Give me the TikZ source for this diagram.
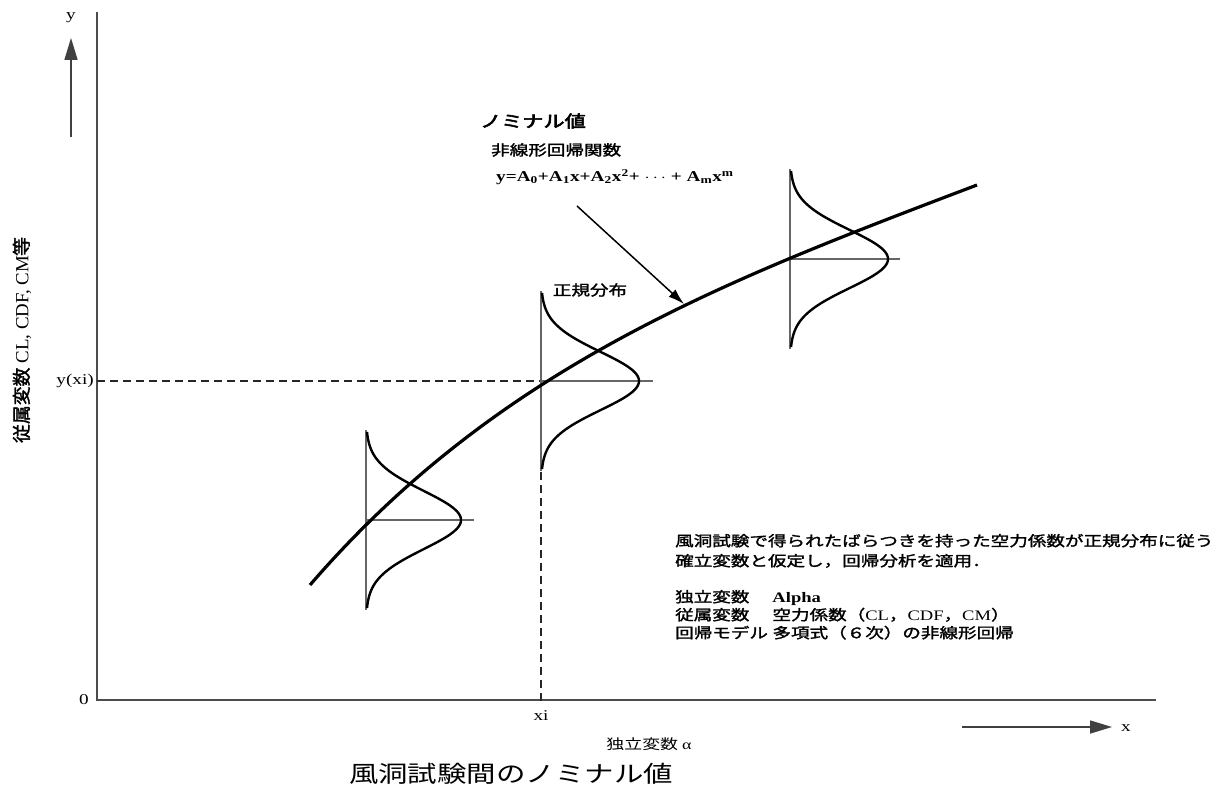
\documentclass[tikz,border=0pt]{standalone}
\usepackage{fontspec}
\setmainfont{Liberation Serif}
\newfontfamily\jp{Noto Sans CJK JP}
\newfontfamily\jpb[FakeBold=1.5]{Noto Sans CJK JP}
\newfontfamily\jpbb[FakeBold=3]{Noto Sans CJK JP}
\usetikzlibrary{arrows.meta}
\newcommand{\hs}[1]{\scalebox{1.28}[1]{#1}}
\newcommand{\fsz}[1]{\fontsize{#1}{#1}\selectfont}
\newcommand{\distr}[4]{%
  \draw[guide] (#1,#2-90) -- (#1,#2+90);
  \draw[guide] (#1,#2) -- (#1+#4,#2);
  \draw[dens] plot[domain=-88:88,samples=90,smooth] ({#1+#3*exp(-(\x*\x)/1700)},{#2+\x});
}
\begin{document}
\begin{tikzpicture}[x=1pt,y=-1pt,
  axis/.style={line width=1.6pt, black!70},
  guide/.style={line width=1.3pt, black!60},
  dens/.style={line width=2.4pt, black},
  mainc/.style={line width=3.2pt, black},
  guided/.style={line width=1.2pt, black!85, dash pattern=on 8pt off 5pt},
  bigarrow/.style={line width=1.6pt, black!75, -{Triangle[length=22pt,width=13pt]}},
  lab/.style={font=\fsz{15}, inner sep=1pt},
  jtxt/.style={font=\jp\fsz{14.5}, inner sep=0pt}]
\useasboundingbox (0,0) rectangle (1218,799);
\fill[white] (0,0) rectangle (1218,799);
% axes
\coordinate (ytop) at (97,12);
\coordinate (O) at (97,700);
\coordinate (xend) at (1156,700);
\draw[axis] (ytop) -- (O) -- (xend);
% direction arrows
\coordinate (ya0) at (71,137);
\coordinate (ya1) at (71,38);
\draw[bigarrow] (ya0) -- (ya1);
\node[lab] (ylab) at (71,18) {\hs{y}};
\coordinate (xa0) at (962,727);
\coordinate (xa1) at (1112,727);
\draw[bigarrow] (xa0) -- (xa1);
\node[lab] (xlab) at (1126,728) {\hs{x}};
% axis labels
\node[lab] (zero) at (84,700) {\hs{0}};
\node[lab, anchor=east] (yxi) at (95,381) {\hs{y(xi)}};
\node[lab] (xi) at (541,716) {\hs{xi}};
\node[inner sep=0pt, font=\fsz{14}] (alab) at (649,744) {\hs{\jp 独立変数\ \rmfamily α}};
\node[rotate=90, inner sep=0pt, font=\fsz{14.5}] (ylabel) at (22,340) {\scalebox{1.3}[1.28]{\jpb 従属変数\ \rmfamily CL, CDF, CM\jpb 等}};
% dashed guides
\coordinate (yx) at (97,381);
\coordinate (P2) at (541,381);
\coordinate (P2b) at (541,472);
\coordinate (xi0) at (541,704);
\draw[guided] (yx) -- (P2);
\draw[guided] (P2b) -- (xi0);
% distributions
\distr{366}{520}{95}{108}
\distr{541}{381}{98}{112}
\distr{790}{259}{98}{110}
% main curve
\coordinate (c0) at (310,585);
\coordinate (c3) at (977,185);
\draw[mainc] (c0) .. controls (500,365) and (727,280) .. (c3);
% labels
\node[anchor=west, inner sep=0pt, font=\jpbb\fsz{16.5}] (nominal) at (480,121) {\hs{ノミナル値}};
\node[anchor=west, inner sep=0pt, font=\jpb\fsz{14.5}] (nlreg) at (491,150) {\hs{非線形回帰関数}};
\node[anchor=west, inner sep=0pt, font=\bfseries\fsz{15}] (formula) at (496,177) {\hs{y=A\textsubscript{0}+A\textsubscript{1}x+A\textsubscript{2}x\textsuperscript{2}+ $\cdots$ + A\textsubscript{m}x\textsuperscript{m}}};
\coordinate (arrstart) at (577,206);
\coordinate (tip) at (684,304);
\draw[line width=1.5pt, -{Latex[length=16pt,width=10pt]}] (arrstart) -- (tip);
\node[inner sep=0pt, font=\jpb\fsz{14.5}] (normal) at (590,290) {\hs{正規分布}};
% note block
\node[anchor=north west, inner sep=0pt, font=\jpb\fsz{14.5}] (note) at (675,532) {\hs{%
\fontsize{14.5}{20}\selectfont
\begin{tabular}{@{}l@{}}
風洞試験で得られたばらつきを持った空力係数が正規分布に従う\\
確立変数と仮定し，回帰分析を適用．\\[16pt]
\makebox[76pt][l]{独立変数}{\rmfamily\bfseries Alpha}\\[-2pt]
\makebox[76pt][l]{従属変数}空力係数（{\rmfamily CL}，{\rmfamily CDF}，{\rmfamily CM}）\\[-2pt]
\makebox[76pt][l]{回帰モデル}多項式（６次）の非線形回帰
\end{tabular}}};
% title
\node[inner sep=0pt, font=\jp\fsz{23}] (title) at (511,774) {\hs{風洞試験間のノミナル値}};
\end{tikzpicture}
\end{document}
